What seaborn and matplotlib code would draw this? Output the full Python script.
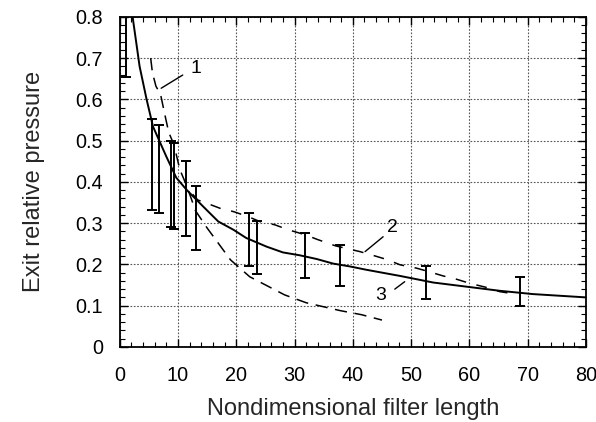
import numpy as np
import pandas as pd
import matplotlib
matplotlib.use("Agg")
import matplotlib.pyplot as plt
import seaborn as sns

# ---- data ----
# solid curve (3)
curve3_x = [2.2, 3.4, 4.6, 5.7, 8.0, 9.7, 11.45, 13.2, 14.9, 16.9, 19.5, 21.7, 25.2, 28.0,
            30.9, 33.8, 36.6, 39.5, 42.3, 48.1, 53.8, 59.5, 65.2, 70.9, 80.0]
curve3_y = [0.80, 0.68, 0.60, 0.534, 0.461, 0.41, 0.381, 0.356, 0.332, 0.304, 0.284, 0.264,
            0.243, 0.229, 0.222, 0.213, 0.202, 0.195, 0.187, 0.172, 0.156, 0.146, 0.136,
            0.128, 0.120]
# lower dashed curve (1)
curve1_x = [5.3, 5.6, 6.2, 7.0, 7.7, 8.4, 9.3, 10.3, 11.5, 13.0, 15.0, 19.0, 22.3, 28.3,
            32.0, 37.8, 41.5, 45.0]
curve1_y = [0.70, 0.665, 0.632, 0.612, 0.565, 0.52, 0.49, 0.43, 0.39, 0.33, 0.288, 0.211,
            0.17, 0.126, 0.107, 0.088, 0.078, 0.065]
# upper dashed curve (2)
curve2_x = [12.5, 13.4, 14.6, 17.2, 19.5, 22.0, 24.0, 26.6, 28.9, 32.0, 33.8, 37.0, 41.2,
            43.2, 45.8, 48.1, 50.9, 52.9, 55.5, 57.8, 60.1, 62.7, 65.2, 67.0]
curve2_y = [0.37, 0.356, 0.35, 0.336, 0.328, 0.316, 0.304, 0.296, 0.284, 0.271, 0.261,
            0.245, 0.231, 0.223, 0.212, 0.199, 0.191, 0.183, 0.172, 0.164, 0.154, 0.145,
            0.134, 0.130]
# experimental error bars
bar_x = [1.0, 5.5, 6.8, 8.8, 9.3, 11.3, 13.0, 22.1, 23.5, 31.8, 37.8, 52.5, 68.7]
bar_low = [0.655, 0.332, 0.324, 0.29, 0.286, 0.269, 0.235, 0.195, 0.177, 0.166, 0.148,
           0.116, 0.100]
bar_high = [0.86, 0.553, 0.538, 0.50, 0.495, 0.451, 0.389, 0.324, 0.304, 0.276, 0.247,
            0.196, 0.170]

x_ticks = [0, 10, 20, 30, 40, 50, 60, 70, 80]
y_ticks = [0, 0.1, 0.2, 0.3, 0.4, 0.5, 0.6, 0.7, 0.8]
y_tick_labels = ["0", "0.1", "0.2", "0.3", "0.4", "0.5", "0.6", "0.7", "0.8"]

labels = ["1", "2", "3"]
label_pos = [(13.0, 0.675), (46.8, 0.29), (44.8, 0.125)]
leader_from = [(10.8, 0.659), (45.2, 0.267), (47.2, 0.140)]
leader_to = [(7.1, 0.627), (42.1, 0.231), (48.9, 0.158)]

xlabel = "Nondimensional filter length"
ylabel = "Exit relative pressure"

# ---- plot ----
sns.set_theme(style="ticks")
plt.rcParams["font.family"] = ["Liberation Sans", "DejaVu Sans"]

fig = plt.figure(figsize=(5.96, 4.22), dpi=100)
ax = fig.add_axes([0.201, 0.178, 0.782, 0.782])

df3 = pd.DataFrame({"x": curve3_x, "y": curve3_y})
df1 = pd.DataFrame({"x": curve1_x, "y": curve1_y})
df2 = pd.DataFrame({"x": curve2_x, "y": curve2_y})

sns.lineplot(data=df3, x="x", y="y", ax=ax, color="black", lw=1.4, sort=False,
             estimator=None)
sns.lineplot(data=df1, x="x", y="y", ax=ax, color="black", lw=1.1, sort=False,
             estimator=None, linestyle=(0, (8, 5)))
sns.lineplot(data=df2, x="x", y="y", ax=ax, color="black", lw=1.1, sort=False,
             estimator=None, linestyle=(0, (7, 7)))

bx = np.array(bar_x)
lo = np.array(bar_low)
hi = np.array(bar_high)
mid = (lo + hi) / 2
ax.errorbar(bx, mid, yerr=[mid - lo, hi - mid], fmt="none", ecolor="black",
            elinewidth=1.4, capsize=3.5, capthick=1.4)

for t, p, a, b in zip(labels, label_pos, leader_from, leader_to):
    ax.text(p[0], p[1], t, fontsize=14, ha="center", va="center", color="black")
    ax.plot([a[0], b[0]], [a[1], b[1]], color="black", lw=1.0)

ax.set_xlim(0, 80)
ax.set_ylim(0, 0.8)
ax.set_xticks(x_ticks)
ax.set_yticks(y_ticks)
ax.set_yticklabels(y_tick_labels)
ax.set_xticks(np.arange(0, 81, 2), minor=True)
ax.set_yticks(np.arange(0, 0.801, 0.02), minor=True)
ax.tick_params(which="both", direction="in", top=True, right=True, colors="black",
               labelsize=14.3)
ax.tick_params(which="major", length=6, width=1.0)
ax.tick_params(which="minor", length=3.5, width=0.8)
ax.tick_params(axis="x", pad=14)
ax.tick_params(axis="y", pad=12)
ax.grid(True, which="major", linestyle=(0, (1.5, 1.5)), color="#555555", lw=0.8)
for s in ax.spines.values():
    s.set_color("black")
    s.set_linewidth(1.3)

ax.set_xlabel(xlabel, fontsize=17, labelpad=9)
ax.set_ylabel(ylabel, fontsize=17, labelpad=22)

fig.savefig("out.png", dpi=100)
